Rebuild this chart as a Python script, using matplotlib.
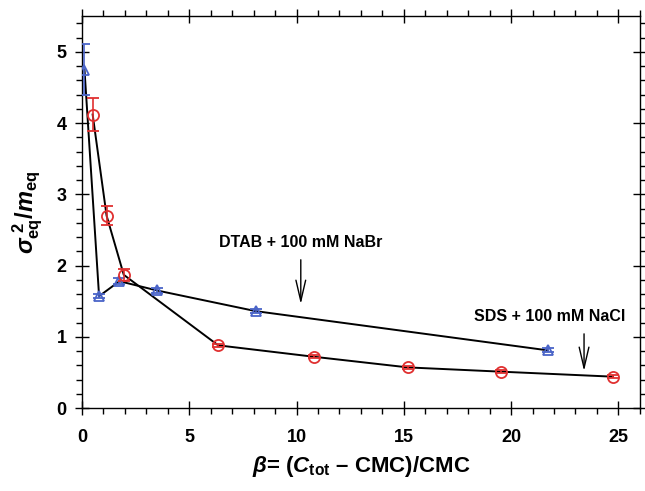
import matplotlib
matplotlib.use('Agg')
import matplotlib.pyplot as plt
from matplotlib.ticker import MultipleLocator

plt.rcParams['font.family'] = 'Liberation Sans'
plt.rcParams['font.weight'] = 'bold'
plt.rcParams['mathtext.fontset'] = 'custom'
plt.rcParams['mathtext.rm'] = 'Liberation Sans:bold'
plt.rcParams['mathtext.it'] = 'Liberation Sans:italic:bold'
plt.rcParams['mathtext.bf'] = 'Liberation Sans:bold'

# DTAB + 100 mM NaBr (blue triangles)
dtab_x = [0.12, 0.8, 1.75, 3.5, 8.1, 21.7]
dtab_y = [4.75, 1.57, 1.78, 1.65, 1.36, 0.81]
dtab_err = [0.36, 0.03, 0.04, 0.04, 0.03, 0.03]

# SDS + 100 mM NaCl (red circles)
sds_x = [0.5, 1.15, 1.95, 6.35, 10.8, 15.2, 19.55, 24.75]
sds_y = [4.12, 2.70, 1.87, 0.88, 0.72, 0.57, 0.51, 0.44]
sds_err = [0.23, 0.13, 0.08, 0.02, 0.02, 0.02, 0.02, 0.02]

fig = plt.figure(figsize=(6.45, 4.91), dpi=100)
ax = fig.add_axes([0.127, 0.169, 0.865, 0.798])

ax.plot(dtab_x, dtab_y, color='black', lw=1.4, zorder=2)
ax.plot(sds_x, sds_y, color='black', lw=1.4, zorder=2)
ax.errorbar(dtab_x, dtab_y, yerr=dtab_err, fmt='^', ms=7, mfc='none',
            mec='#4a64c8', mew=1.3, ecolor='#4a64c8', elinewidth=1.2,
            capsize=4, zorder=3)
ax.errorbar(sds_x, sds_y, yerr=sds_err, fmt='o', ms=8, mfc='none',
            mec='#e03030', mew=1.3, ecolor='#e03030', elinewidth=1.2,
            capsize=4, zorder=3)

arrow = dict(arrowstyle='->,head_length=1.5,head_width=0.35', color='black', lw=1.0)
ax.annotate('', xy=(10.2, 1.42), xytext=(10.2, 2.12), arrowprops=arrow)
ax.text(10.2, 2.32, 'DTAB + 100 mM NaBr', ha='center', va='center', fontsize=11.5)
ax.annotate('', xy=(23.4, 0.48), xytext=(23.4, 1.08), arrowprops=arrow)
ax.text(21.8, 1.29, 'SDS + 100 mM NaCl', ha='center', va='center', fontsize=11.5)

ax.set_xlim(0, 26)
ax.set_ylim(0, 5.5)
ax.xaxis.set_major_locator(MultipleLocator(5))
ax.xaxis.set_minor_locator(MultipleLocator(1))
ax.yaxis.set_major_locator(MultipleLocator(1))
ax.yaxis.set_minor_locator(MultipleLocator(0.2))
ax.tick_params(which='both', top=True, right=True, labelsize=13, width=1.0)
ax.tick_params(which='major', direction='inout', length=10)
ax.tick_params(which='minor', direction='out', length=4)
ax.tick_params(axis='x', which='major', pad=10)
ax.tick_params(axis='y', which='major', pad=6)
for lab in ax.get_xticklabels() + ax.get_yticklabels():
    lab.set_fontweight('bold')
for s in ax.spines.values():
    s.set_linewidth(1.0)

ax.set_xlabel(r'$\beta$= ($C_{\mathrm{tot}}$ – CMC)/CMC', fontsize=16,
              fontweight='bold', labelpad=6)
ax.set_ylabel(r'$\sigma_{\mathrm{eq}}^{\ 2}/m_{\mathrm{eq}}$', fontsize=17,
              labelpad=8)

fig.savefig('out.png', dpi=100)
